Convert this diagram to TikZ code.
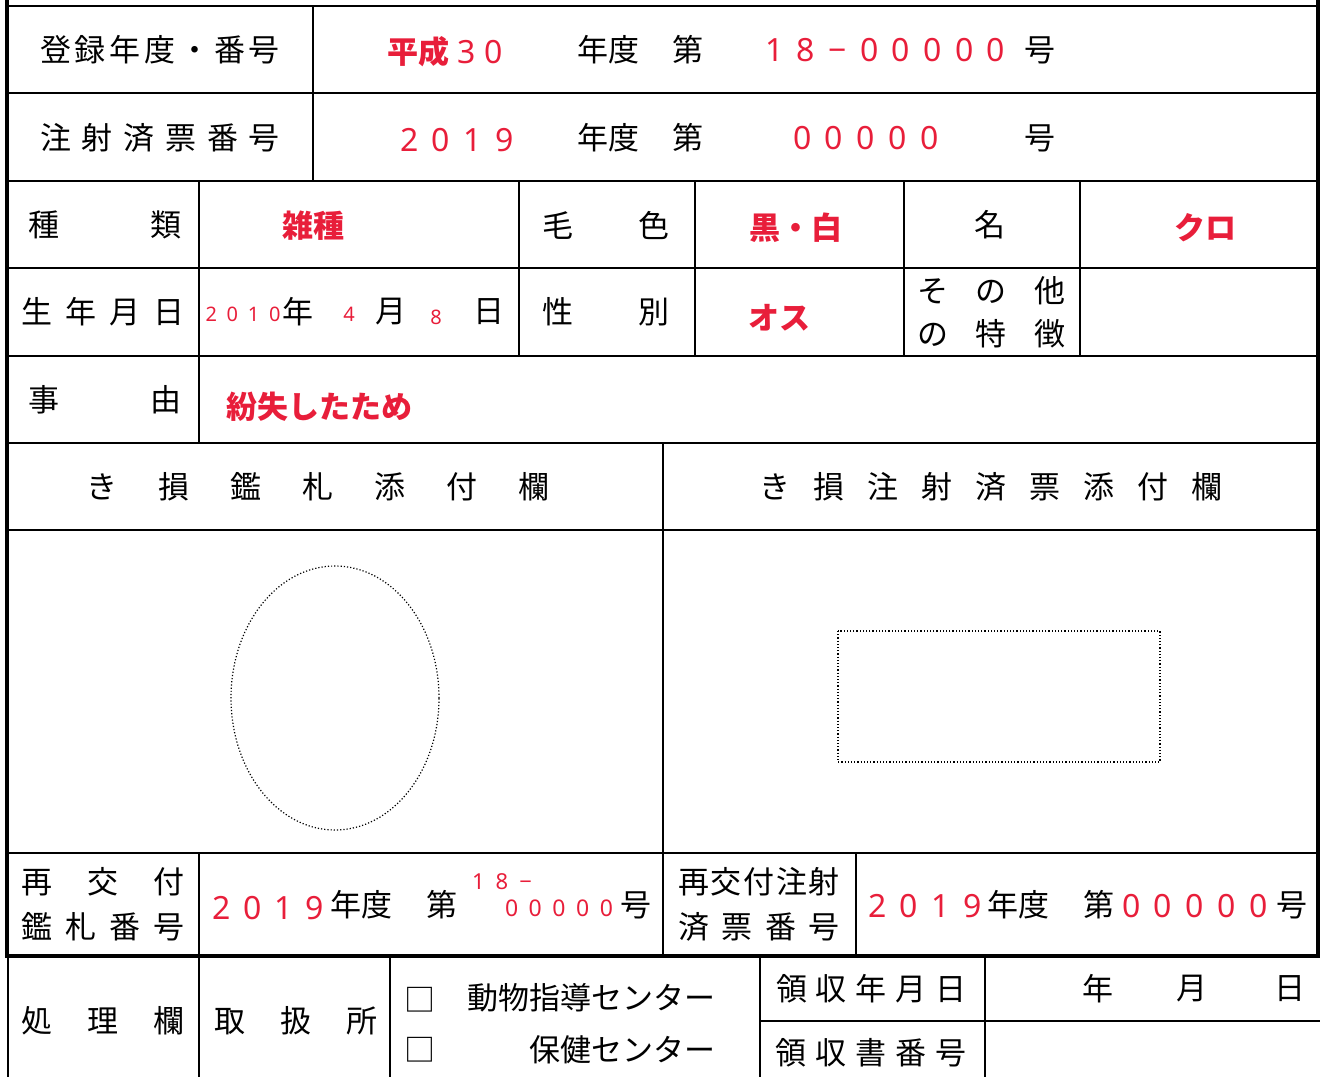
\documentclass[tikz,border=0pt]{standalone}
\usepackage{fontspec}
\setmainfont{Noto Sans CJK JP}
\newfontfamily\digitfont{Noto Sans}
\definecolor{markred}{RGB}{232,30,58}

\begin{document}
\begin{tikzpicture}[x=0.5pt, y=-0.5pt,
    lbl/.style={inner sep=0pt, font=\fontsize{15.5}{18}\selectfont},
    val/.style={lbl, text=markred},
    num/.style={val, font=\digitfont\fontsize{16}{18}\selectfont},
    tiny/.style={val, font=\digitfont\fontsize{10}{12}\selectfont},
    rule/.style={line width=1pt},
    frame/.style={line width=2pt},
    guide/.style={densely dotted, line width=0.6pt}]

    \useasboundingbox (0,0) rectangle (1320,1077);

    % grid
    \draw[rule] (7,6) -- (1318,6) (7,93) -- (1318,93) (7,181) -- (1318,181) (7,268) -- (1318,268)
        (7,356) -- (1318,356) (7,443) -- (1318,443) (7,530) -- (1318,530) (7,853) -- (1318,853)
        (760,1021) -- (1320,1021);
    \draw[rule] (313,6) -- (313,181) (199,181) -- (199,443) (519,181) -- (519,356) (695,181) -- (695,356)
        (904,181) -- (904,356) (1080,181) -- (1080,356) (663,443) -- (663,956) (199,853) -- (199,956)
        (856,853) -- (856,956) (8,956) -- (8,1077) (199,956) -- (199,1077) (390,956) -- (390,1077)
        (760,956) -- (760,1077) (985,956) -- (985,1077);
    \draw[frame] (7,0) -- (7,956) (1317.5,0) -- (1317.5,956) (5,955.5) -- (1320,955.5);

    % registration
    \node[lbl] (reglbl) at (160,50) {\makebox[120pt]{登\hfill 録\hfill 年\hfill 度\hfill ・\hfill 番\hfill 号}};
    \node[val] (regera) at (418,52) {\textbf{平成}};
    \node[num] (regyear) at (480,52) {\makebox[23pt]{3\hfill 0}};
    \node[lbl] (regnendo) at (608,50) {年度};
    \node[lbl] (regdai) at (688,50) {第};
    \node[num] (regno) at (885,50) {\makebox[120pt]{1\hfill 8\hfill \textbf{−}\hfill 0\hfill 0\hfill 0\hfill 0\hfill 0}};
    \node[lbl] (reggo) at (1040,50) {号};

    \node[lbl] (injlbl) at (160,138) {\makebox[120pt]{注\hfill 射\hfill 済\hfill 票\hfill 番\hfill 号}};
    \node[num] (injyear) at (457,140) {\makebox[57pt]{2\hfill 0\hfill 1\hfill 9}};
    \node[lbl] (injnendo) at (608,138) {年度};
    \node[lbl] (injdai) at (688,138) {第};
    \node[num] (injno) at (866,138) {\makebox[73pt]{0\hfill 0\hfill 0\hfill 0\hfill 0}};
    \node[lbl] (injgo) at (1040,138) {号};

    % animal
    \node[lbl] (kind) at (105,225) {\makebox[77pt]{種\hfill 類}};
    \node[val] (kindval) at (313,226) {\textbf{雑種}};
    \node[lbl] (coat) at (606,225) {\makebox[63.5pt]{毛\hfill 色}};
    \node[val] (coatval) at (796,228) {\textbf{黒・白}};
    \node[lbl] (name) at (990,225) {名};
    \node[val] (nameval) at (1205,228) {\textbf{クロ}};

    \node[lbl] (birth) at (103,312) {\makebox[81.5pt]{生\hfill 年\hfill 月\hfill 日}};
    \node[tiny] (byear) at (243,314) {\makebox[37.5pt]{2\hfill 0\hfill 1\hfill 0}};
    \node[lbl] (bnen) at (298,312) {年};
    \node[tiny] (bmonth) at (349,314) {4};
    \node[lbl] (bgetsu) at (391,312) {月};
    \node[tiny] (bday) at (436,317) {8};
    \node[lbl] (bnichi) at (489,312) {日};
    \node[lbl] (sex) at (606,312) {\makebox[63.5pt]{性\hfill 別}};
    \node[val] (sexval) at (779,318) {\textbf{オス}};
    \node[lbl] (misc1) at (991,291) {\makebox[74pt]{そ\hfill の\hfill 他}};
    \node[lbl] (misc2) at (991,334) {\makebox[74pt]{の\hfill 特\hfill 徴}};

    \node[lbl] (reason) at (105,400) {\makebox[77pt]{事\hfill 由}};
    \node[val, anchor=west] (reasonval) at (226,407) {\textbf{紛失したため}};

    % attachments
    \node[lbl] (tagcol) at (318,487) {\makebox[231.5pt]{き\hfill 損\hfill 鑑\hfill 札\hfill 添\hfill 付\hfill 欄}};
    \node[lbl] (ticketcol) at (991,487) {\makebox[231.5pt]{き\hfill 損\hfill 注\hfill 射\hfill 済\hfill 票\hfill 添\hfill 付\hfill 欄}};
    \draw[guide] (335,698) ellipse [x radius=52pt, y radius=66pt];
    \draw[guide] (838,631) rectangle (1160,762);

    % reissue
    \node[lbl] (retag1) at (103,882) {\makebox[81.5pt]{再\hfill 交\hfill 付}};
    \node[lbl] (retag2) at (103,927) {\makebox[81.5pt]{鑑\hfill 札\hfill 番\hfill 号}};
    \node[num] (retagyear) at (268,908) {\makebox[56pt]{2\hfill 0\hfill 1\hfill 9}};
    \node[lbl] (retagnendo) at (361,905) {年度};
    \node[lbl] (retagdai) at (442,905) {第};
    \node[tiny, font=\digitfont\fontsize{11}{12}\selectfont] (retagpre) at (502,882) {\makebox[30pt]{1\hfill 8\hfill \textbf{−}}};
    \node[tiny, font=\digitfont\fontsize{11.5}{12}\selectfont] (retagno) at (559,908) {\makebox[54pt]{0\hfill 0\hfill 0\hfill 0\hfill 0}};
    \node[lbl] (retaggo) at (636,905) {号};

    \node[lbl] (reinj1) at (759,882) {\makebox[81pt]{再\hfill 交\hfill 付\hfill 注\hfill 射}};
    \node[lbl] (reinj2) at (759,927) {\makebox[81pt]{済\hfill 票\hfill 番\hfill 号}};
    \node[num] (reinjyear) at (925,906) {\makebox[57pt]{2\hfill 0\hfill 1\hfill 9}};
    \node[lbl] (reinjnendo) at (1018,905) {年度};
    \node[lbl] (reinjdai) at (1099,905) {第};
    \node[num] (reinjno) at (1195,906) {\makebox[73pt]{0\hfill 0\hfill 0\hfill 0\hfill 0}};
    \node[lbl] (reinjgo) at (1292,905) {号};

    % processing
    \node[lbl] (proc) at (103,1021) {\makebox[81.5pt]{処\hfill 理\hfill 欄}};
    \node[lbl] (office) at (296,1021) {\makebox[81.5pt]{取\hfill 扱\hfill 所}};
    \node[lbl] (box1) at (420,1000) {□};
    \node[lbl, anchor=east] (office1) at (716,998) {動物指導センター};
    \node[lbl] (box2) at (420,1050) {□};
    \node[lbl, anchor=east] (office2) at (716,1050) {保健センター};
    \node[lbl] (recdate) at (871,989) {\makebox[95pt]{領\hfill 収\hfill 年\hfill 月\hfill 日}};
    \node[lbl] (recyear) at (1098,989) {年};
    \node[lbl] (recmonth) at (1192,989) {月};
    \node[lbl] (recday) at (1290,989) {日};
    \node[lbl] (recno) at (871,1053) {\makebox[96pt]{領\hfill 収\hfill 書\hfill 番\hfill 号}};

\end{tikzpicture}
\end{document}
